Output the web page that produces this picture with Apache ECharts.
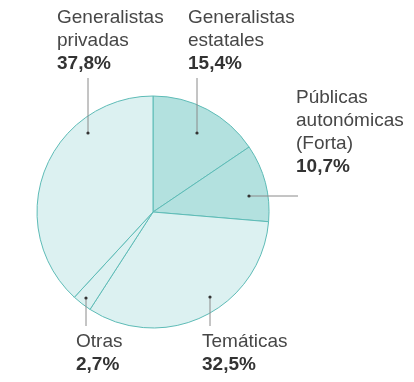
<!DOCTYPE html>
<html><head><meta charset="utf-8">
<script src="https://cdn.jsdelivr.net/npm/echarts@6/dist/echarts.min.js"></script>
<style>html,body{margin:0;padding:0;background:#fff}#c{width:414px;height:382px}</style>
</head><body><div id="c"></div>
<script>
// Data
var categories = ['Generalistas\nestatales', 'Públicas\nautonómicas\n(Forta)', 'Temáticas', 'Otras', 'Generalistas\nprivadas'];
var shares = [15.4, 10.7, 32.5, 2.7, 37.8];
var shade = ['dark', 'dark', 'light', 'light', 'light'];

// Label layout (positions only): label top-left and leader line points
var labelPos = [
  {x: 188, y: 6, line: [[197, 133], [197, 78]]},
  {x: 296, y: 86, line: [[249, 196], [298, 196]]},
  {x: 202, y: 330, line: [[210, 297], [210, 326]]},
  {x: 76, y: 330, line: [[86, 298], [86, 326]]},
  {x: 57, y: 6, line: [[88, 133], [88, 78]]}
];

var fills = {dark: '#b3e1df', light: '#dcf1f1'};
var chart = echarts.init(document.getElementById('c'), null, {renderer: 'canvas'});
var data = categories.map(function (c, i) {
  return {name: c, value: shares[i], itemStyle: {color: fills[shade[i]]}};
});
function labelText(i) {
  var lines = categories[i].split('\n').map(function (l) { return '{n|' + l + '}'; });
  lines.push('{v|' + shares[i].toFixed(1).replace('.', ',') + '%}');
  return lines.join('\n');
}
var rich = {
  n: {fontFamily: 'Liberation Sans, Arial, sans-serif', fontSize: 19, lineHeight: 23, fill: '#474747', color: '#474747'},
  v: {fontFamily: 'Liberation Sans, Arial, sans-serif', fontSize: 19, lineHeight: 23, fontWeight: 'bold', fill: '#333333', color: '#333333'}
};
var graphics = [];
labelPos.forEach(function (lp, i) {
  graphics.push({type: 'polyline', shape: {points: lp.line}, style: {stroke: '#8a8a8a', lineWidth: 1, fill: null}, z: 99, silent: true});
  graphics.push({type: 'circle', shape: {cx: lp.line[0][0], cy: lp.line[0][1], r: 1.6}, style: {fill: '#333'}, z: 100, silent: true});
  graphics.push({type: 'text', x: lp.x, y: lp.y, style: {text: labelText(i), rich: rich, verticalAlign: 'top', align: 'left'}, z: 100, silent: true});
});
chart.setOption({
  animation: false,
  series: [{
    type: 'pie',
    center: [153, 212],
    radius: 116,
    startAngle: 90,
    clockwise: true,
    silent: true,
    emphasis: {disabled: true},
    itemStyle: {borderColor: '#5dbbb6', borderWidth: 1},
    data: data,
    label: {show: false},
    labelLine: {show: false}
  }],
  graphic: graphics
});
</script></body></html>
